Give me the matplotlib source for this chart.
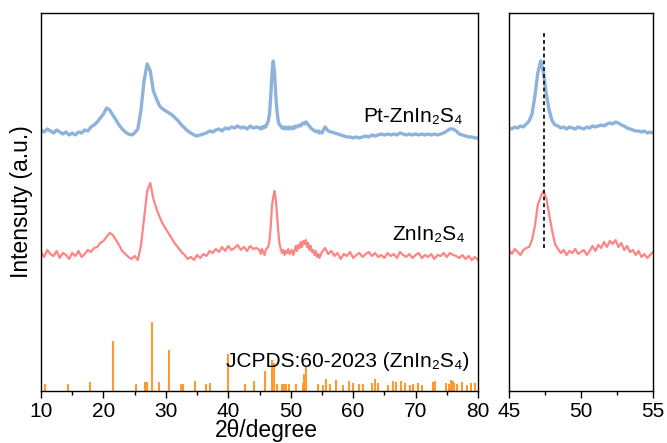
import numpy as np
import matplotlib
matplotlib.use('Agg')
import matplotlib.pyplot as plt

plt.rcParams['font.family'] = ['Liberation Sans', 'DejaVu Sans']

# 2theta sampling: coarser outside, finer inside the 45-55 window
two_theta = np.concatenate([np.arange(10.0, 44.75, 0.5),
                            np.arange(45.0, 54.9, 0.2),
                            np.arange(55.0, 80.25, 0.5)])

pt_znins = [
    # 10 - 44.5
    261, 259, 262, 260, 258, 261, 259, 257, 259, 256,
    258, 256, 259, 258, 261, 260, 264, 266, 269, 273,
    277, 283, 281, 276, 271, 266, 262, 259, 257, 256,
    258, 262, 280, 310, 327, 320, 300, 292, 285, 282,
    280, 278, 276, 273, 270, 266, 263, 260, 258, 256,
    255, 256, 257, 258, 260, 259, 261, 262, 260, 263,
    262, 264, 263, 265, 263, 264, 262, 265, 263, 264,
    # 45 - 54.8
    263, 262, 264, 263, 265, 264, 267, 270, 277, 295,
    318, 330, 318, 296, 280, 270, 266, 265, 263, 264,
    262, 264, 263, 262, 264, 263, 262, 264, 263, 265,
    264, 265, 266, 265, 267, 268, 267, 269, 268, 266,
    265, 263, 262, 261, 260, 260, 259, 260, 258, 259,
    # 55 - 80
    258, 264, 260, 259, 258, 257, 256, 255, 254, 254,
    253, 254, 253, 254, 255, 254, 256, 255, 256, 257,
    256, 257, 256, 257, 256, 258, 257, 256, 257, 256,
    257, 256, 257, 256, 257, 256, 257, 256, 257, 258,
    260, 262, 262, 260, 257, 256, 255, 254, 254, 253,
    253,
]

znins = [
    # 10 - 44.5
    139, 134, 141, 137, 135, 140, 133, 138, 136, 132,
    138, 135, 140, 134, 137, 141, 139, 143, 144, 148,
    150, 154, 158, 156, 151, 146, 140, 137, 134, 132,
    135, 131, 145, 172, 200, 208, 192, 182, 174, 167,
    162, 157, 152, 147, 143, 139, 136, 132, 134, 131,
    136, 133, 137, 135, 140, 138, 142, 139, 144, 140,
    145, 141, 143, 146, 141, 144, 140, 145, 142, 143,
    # 45 - 54.8
    141, 137, 142, 139, 136, 141, 143, 144, 151, 165,
    186, 194, 200, 192, 176, 160, 147, 142, 138, 141,
    136, 140, 138, 142, 137, 139, 141, 136, 140, 145,
    140, 146, 143, 149, 144, 150, 147, 151, 144, 148,
    141, 145, 139, 141, 136, 140, 134, 137, 133, 136,
    # 55 - 80
    139, 143, 137, 140, 135, 138, 132, 137, 135, 139,
    133, 136, 138, 134, 137, 139, 135, 138, 134, 136,
    133, 138, 135, 137, 133, 139, 136, 134, 137, 133,
    136, 138, 133, 136, 134, 137, 132, 136, 135, 138,
    134, 138, 136, 135, 133, 136, 132, 135, 131, 134,
    131,
]

# JCPDS 60-2023 reference lines
ref_pos = [10.7, 14.4, 17.9, 21.6, 25.2, 26.7, 27.0, 27.7, 28.9, 30.5,
           32.5, 32.8, 34.7, 36.5, 37.1, 39.9, 42.7, 44.1, 45.8, 47.0,
           47.3, 47.8, 48.6, 48.9, 49.2, 49.7, 50.9, 51.9, 52.2, 52.5,
           54.3, 55.1, 55.65, 56.3, 57.2, 58.3, 59.3, 59.9, 60.9, 61.5,
           63.0, 63.5, 63.9, 65.5, 66.4, 66.8, 67.7, 68.3, 69.1, 69.6,
           70.4, 71.0, 72.8, 73.1, 74.8, 75.4, 75.7, 76.0, 76.2, 76.6,
           77.4, 78.2, 78.9, 79.5]
ref_int = [7, 7, 9, 50, 7, 9, 9, 69, 9, 41,
           7, 7, 10, 7, 8, 37, 7, 10, 20, 31,
           28, 7, 7, 7, 7, 7, 7, 8, 17, 24,
           7, 6, 12, 7, 11, 6, 10, 8, 7, 7,
           8, 12, 8, 6, 10, 9, 10, 8, 6, 7,
           8, 6, 9, 10, 8, 7, 11, 10, 8, 7,
           9, 6, 8, 8]

shift_line_x = 47.43
shift_line_y = (143, 359)

blue = '#8db3dc'
red = '#ff8585'
orange = '#ff9a2e'

fig = plt.figure(figsize=(6.67, 4.43), dpi=100)
ax1 = fig.add_axes([0.0615, 0.1174, 0.6552, 0.8533])
ax2 = fig.add_axes([0.7631, 0.1174, 0.2159, 0.8533])

for ax in (ax1, ax2):
    ax.plot(two_theta, pt_znins, color=blue, lw=2.4)
    ax.plot(two_theta, znins, color=red, lw=1.6)
    ax.set_ylim(0, 378)
    ax.set_yticks([])
    for s in ax.spines.values():
        s.set_linewidth(1.0)
    ax.tick_params(axis='x', which='major', direction='out', length=5,
                   width=1.0, labelsize=15, pad=3)
    ax.tick_params(axis='x', which='minor', direction='out', length=3,
                   width=1.0)

ax1.vlines(ref_pos, 0, ref_int, colors=orange, lw=1.5)
ax1.set_xlim(10, 80)
ax1.set_xticks(np.arange(10, 81, 10))
ax1.set_xticks(np.arange(15, 80, 10), minor=True)
ax1.set_xlabel('2θ/degree', fontsize=16.5)
ax1.xaxis.set_label_coords(0.515, -0.075)
ax1.set_ylabel('Intensuty (a.u.)', fontsize=16.5)
ax1.yaxis.set_label_coords(-0.018, 0.5)

ax1.text(61.6, 269, 'Pt-ZnIn₂S₄', fontsize=15, va='baseline')
ax1.text(66.2, 151, 'ZnIn₂S₄', fontsize=15, va='baseline')
ax1.text(39.6, 24, 'JCPDS:60-2023 (ZnIn₂S₄)', fontsize=15,
         va='baseline')

ax2.set_xlim(45, 55)
ax2.set_xticks([45, 50, 55])
ax2.set_xticks([47.5, 52.5], minor=True)
ax2.plot([shift_line_x, shift_line_x], shift_line_y, color='#222222',
         lw=1.4, linestyle=(0, (2, 1.5)))

fig.savefig('out.png', dpi=100)
